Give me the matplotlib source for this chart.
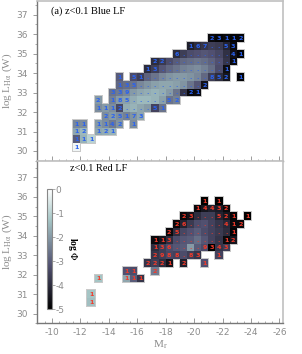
import numpy as np
import matplotlib
matplotlib.use("Agg")
import matplotlib.pyplot as plt
from matplotlib.colors import Normalize
from matplotlib.patches import Rectangle

plt.rcParams['axes.unicode_minus'] = False
plt.rcParams['mathtext.fontset'] = 'stix'

# bin grid (M_r columns 0.5 mag, log L rows 0.4 dex)
m_edges = np.arange(-10.0, -24.01, -0.5)
l_edges = np.arange(30.0, 36.01, 0.4)

# ---- blue LF: row centre logL, first column M_r, counts ('_' = empty, '.' = many), log Phi
blue_L = [35.8, 35.4, 35.0, 34.6, 34.2, 33.8, 33.4, 33.0, 32.6, 32.2, 31.8, 31.4, 31.0, 30.6, 30.2]
blue_M0 = [-21.25, -19.75, -18.75, -17.25, -16.75, -14.75, -14.75, -14.25, -13.25, -13.25,
           -13.75, -11.75, -11.75, -11.75, -11.75]
blue_counts = ["23112", "167..53", "6.......41", "22.........1", "13.........1",
               "1_51.........852_1", "135.........2", "339........21", "2_185.....52",
               "1112....51", "225173", "11_1142_1", "12_121", "111", "1"]
blue_logphi = [
    [-4.8, -4.9, -4.8, -4.9, -4.9],
    [-4.3, -4.0, -3.8, -3.6, -3.7, -4.2, -4.8],
    [-4.0, -3.6, -3.3, -3.2, -3.1, -3.2, -3.4, -3.9, -4.6, -4.9],
    [-4.0, -3.7, -3.3, -3.0, -2.8, -2.7, -2.6, -2.7, -2.9, -3.2, -3.8, -4.8],
    [-4.0, -3.6, -3.1, -2.8, -2.6, -2.4, -2.3, -2.2, -2.4, -2.7, -3.3, -4.7],
    [-3.0, -3.3, -3.6, -2.9, -2.6, -2.3, -2.1, -2.0, -2.0, -2.1, -2.3, -2.8, -3.6, -4.0, -4.5, -4.9],
    [-2.8, -2.7, -2.6, -2.3, -2.1, -1.9, -1.8, -1.8, -1.9, -2.1, -2.6, -3.1, -4.6],
    [-2.6, -2.5, -2.3, -2.0, -1.8, -1.7, -1.6, -1.7, -2.0, -2.6, -3.8, -4.8, -4.7],
    [-2.0, -2.4, -2.0, -1.9, -1.7, -1.5, -1.5, -1.6, -1.9, -2.6, -2.4],
    [-2.2, -2.0, -2.2, -3.4, -1.7, -1.6, -1.8, -2.0, -3.5, -2.6],
    [-2.2, -2.0, -2.2, -2.4, -2.1, -1.8],
    [-2.3, -2.2, -2.0, -2.2, -2.5, -2.1, -2.2],
    [-1.8, -1.5, -1.8, -1.7, -1.6],
    [-3.0, -1.6, -1.0],
    [-0.2],
]

# ---- red LF
red_L = [35.8, 35.4, 35.0, 34.6, 34.2, 33.8, 33.4, 33.0, 32.6, 32.2, 31.8, 31.0, 30.6]
red_M0 = [-20.75, -20.25, -19.25, -18.75, -18.25, -17.25, -17.25, -17.25, -16.75, -15.25,
          -13.25, -12.75, -12.75]
red_counts = ["1_1", "14432", "23...521_1", "26.....412", "25.......1", "113.......12",
              "136....9343", "2988.83__1", "2221_2__1", "11__2", "1___111", "1", "1"]
red_logphi = [
    [-5.0, -5.0],
    [-4.8, -4.5, -4.3, -4.4, -4.8],
    [-4.8, -4.6, -4.0, -3.6, -3.6, -4.2, -4.5, -4.9, -5.0],
    [-4.8, -4.2, -3.7, -3.3, -3.2, -3.5, -3.8, -4.1, -4.8, -4.8],
    [-4.8, -4.0, -3.4, -3.2, -3.0, -3.3, -3.5, -3.7, -4.0, -4.9],
    [-4.8, -4.5, -4.0, -3.3, -3.1, -3.0, -2.7, -3.1, -3.5, -3.8, -4.8, -4.5],
    [-4.0, -3.6, -3.3, -3.1, -3.0, -2.0, -3.0, -3.3, -5.0, -3.8, -3.6],
    [-3.8, -3.6, -3.4, -3.5, -3.3, -3.6, -3.8, -3.5],
    [-3.8, -3.6, -4.0, -4.6, -4.3, -3.2],
    [-3.2, -3.3, -2.5],
    [-1.3, -1.8, -3.0, -3.8],
    [-1.3],
    [-1.4],
]


def build(Ls, M0s, counts, vals):
    grid = np.full((len(l_edges) - 1, len(m_edges) - 1), np.nan)
    labels = []
    for L, M0, cs, vs in zip(Ls, M0s, counts, vals):
        it = iter(vs)
        for i, ch in enumerate(cs):
            if ch == '_':
                continue
            M = M0 - 0.5 * i
            col = int(round((-10.25 - M) / 0.5))
            row = int(round((L - 30.2) / 0.4))
            grid[row, col] = next(it)
            labels.append((M, L, ch))
    return grid, labels


cmap = plt.get_cmap('bone')
norm = Normalize(-5, 0)
gray = '#8c8c8c'

fig = plt.figure(figsize=(3.02, 3.54), dpi=100)
ax1 = fig.add_axes([0.1225, 0.546, 0.8146, 0.451])
ax2 = fig.add_axes([0.1225, 0.0867, 0.8146, 0.459])

panels = [(ax1, blue_L, blue_M0, blue_counts, blue_logphi, '#2a62f0', (29.55, 37.7)),
          (ax2, red_L, red_M0, red_counts, red_logphi, '#f23a2a', (29.5, 37.85))]

for ax, Ls, M0s, cs, vs, tcol, ylim in panels:
    grid, labels = build(Ls, M0s, cs, vs)
    # light outline around the filled bins
    for M, L, ch in labels:
        ax.add_patch(Rectangle((M + 0.25, L - 0.2), -0.5, 0.4, facecolor='#c8c8c8',
                               edgecolor='#c8c8c8', linewidth=1.4, zorder=1))
    mesh = ax.pcolormesh(m_edges, l_edges, np.ma.masked_invalid(grid), cmap=cmap, norm=norm,
                         zorder=2)
    for M, L, ch in labels:
        ax.text(M, L - 0.02, ch, color=tcol, fontsize=4.6, fontweight='bold',
                ha='center', va='center', zorder=3)
    ax.set_xlim(-8.95, -26.25)
    ax.set_ylim(*ylim)
    ax.set_xticks(np.arange(-10, -27, -2))
    ax.set_xticks(np.arange(-9.5, -26.1, -0.5), minor=True)
    ax.set_yticks(np.arange(30, 38))
    ax.set_yticks(np.arange(29.5, 37.6, 0.5), minor=True)
    ax.tick_params(axis='x', which='both', direction='in', colors=gray, labelsize=6.5, top=False)
    ax.tick_params(axis='x', which='major', length=3.5, width=0.6)
    ax.tick_params(axis='x', which='minor', length=1.8, width=0.5)
    ax.tick_params(axis='y', which='both', direction='out', colors=gray, labelsize=6.5, right=False)
    ax.tick_params(axis='y', which='major', length=3, width=0.6)
    ax.tick_params(axis='y', which='minor', length=1.5, width=0.5)
    for side in ['top', 'right']:
        ax.spines[side].set_color('#c0c0c0')
        ax.spines[side].set_linewidth(1.2)
    for side in ['left', 'bottom']:
        ax.spines[side].set_color('#777777')
        ax.spines[side].set_linewidth(1.0)
    ax.set_ylabel(r'log L$_{\rm H\alpha}$ (W)', family='Liberation Serif', fontsize=8,
                  color=gray, labelpad=2)

ax1.tick_params(axis='x', labelbottom=False)
ax2.set_xlabel(r'M$_{\rm r}$', family='Liberation Serif', fontsize=8, color=gray, labelpad=1)

ax1.text(0.055, 0.935, '(a) z<0.1 Blue LF', transform=ax1.transAxes,
         family='Liberation Serif', fontsize=7.5, va='center')
ax2.text(0.135, 0.955, 'z<0.1 Red LF', transform=ax2.transAxes,
         family='Liberation Serif', fontsize=7.5, va='center')

cax = fig.add_axes([0.1546, 0.127, 0.0166, 0.339])
cb = fig.colorbar(mesh, cax=cax, ticks=[0, -1, -2, -3, -4, -5])
cb.ax.tick_params(colors=gray, labelsize=6.5, length=2, width=0.5, pad=1)
cb.outline.set_edgecolor('#888888')
cb.outline.set_linewidth(0.8)
cb.set_label(r'log $\Phi$', rotation=270, family='Liberation Serif', fontsize=7,
             labelpad=10, fontweight='bold')

fig.savefig('out.png', dpi=100)
